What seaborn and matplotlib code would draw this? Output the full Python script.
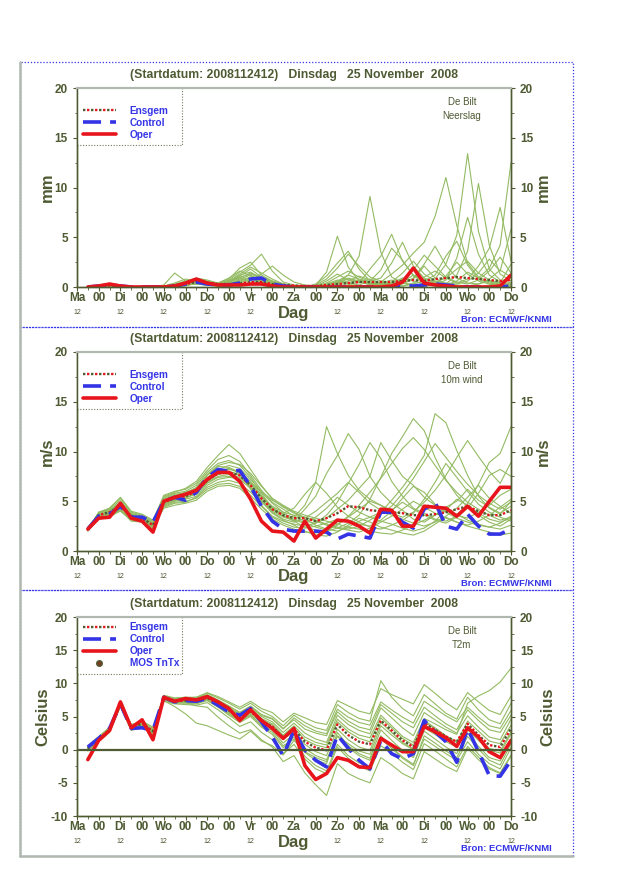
import matplotlib
matplotlib.use("Agg")
import matplotlib.pyplot as plt
import pandas as pd
import seaborn as sns
from matplotlib.lines import Line2D
from matplotlib.patches import Rectangle

sns.set_style("white")
plt.rcParams["font.family"] = ["Liberation Sans", "DejaVu Sans"]
plt.rcParams["axes.unicode_minus"] = False

# tijdstappen (uur na 2008112412), 6-uurlijks
uren = list(range(6, 241, 6))
dagen = ["Ma", "Di", "Wo", "Do", "Vr", "Za", "Zo", "Ma", "Di", "Wo", "Do"]
titel = "(Startdatum: 2008112412)   Dinsdag   25 November  2008"

# ---- neerslag (mm)
neerslag_oper = [0, 0.1, 0.3, 0.1, 0, 0, 0, 0, 0.1, 0.4, 0.8, 0.4, 0.2, 0.2, 0.2, 0.3,
                 0.3, 0.1, 0, 0, 0, 0, 0, 0, 0, 0, 0, 0, 0.1, 0.5, 1.9, 0.4,
                 0.2, 0.1, 0, 0, 0, 0, 0.1, 1.2]
neerslag_control = [0, 0.1, 0.2, 0.1, 0, 0, 0, 0, 0.1, 0.3, 0.5, 0.3, 0.2, 0.2, 0.4, 0.8,
                    0.9, 0.3, 0.1, 0, 0, 0, 0, 0, 0, 0, 0, 0, 0, 0.1, 0.1, 0.2,
                    0.3, 0.2, 0.1, 0, 0, 0, 0, 0.1]
neerslag_gem = [0, 0.1, 0.15, 0.1, 0, 0, 0, 0.05, 0.1, 0.3, 0.5, 0.4, 0.3, 0.3, 0.35, 0.5,
                0.5, 0.3, 0.2, 0.15, 0.1, 0.1, 0.2, 0.3, 0.4, 0.5, 0.5, 0.5, 0.5, 0.6, 0.7, 0.6,
                0.8, 0.9, 1.0, 0.9, 0.8, 0.7, 0.6, 0.7]
neerslag_leden = [
    [0, 0, 0.1, 0, 0, 0, 0, 0.2, 1.4, 0.6, 0.3, 0.2, 0.1, 0.3, 0.8, 1.2,
     0.6, 0.3, 0.1, 0, 0, 0.2, 1.5, 5.1, 2.0, 0.6, 0.2, 0.1, 0, 0.3, 0.8, 2.1,
     0.9, 0.3, 0.1, 0, 0, 0.2, 0.5, 0.3],
    [0, 0.1, 0.2, 0.1, 0, 0, 0, 0, 0.1, 0.3, 0.6, 0.4, 0.3, 0.7, 1.5, 2.2,
     3.3, 1.6, 0.5, 0.2, 0.1, 0, 0, 0.4, 1.2, 3.1, 9.1, 3.5, 1.0, 0.4, 0.2, 0.1,
     0.3, 1.1, 2.5, 1.3, 0.6, 0.3, 0.1, 0],
    [0, 0, 0.1, 0, 0, 0, 0, 0, 0, 0.2, 0.5, 0.3, 0.2, 0.4, 1.1, 1.8,
     1.0, 0.4, 0.2, 0.1, 0, 0.1, 0.6, 1.3, 0.7, 0.4, 1.8, 3.1, 5.3, 2.6, 1.2, 0.5,
     0.8, 2.3, 5.2, 13.4, 5.6, 1.8, 0.7, 0.4],
    [0, 0.1, 0.1, 0, 0, 0, 0, 0.1, 0.4, 0.8, 0.6, 0.3, 0.2, 0.5, 0.9, 0.6,
     0.4, 0.2, 0.1, 0, 0, 0.3, 1.1, 2.4, 3.6, 1.8, 0.6, 0.9, 2.4, 4.5, 2.1, 0.9,
     0.5, 0.3, 1.2, 3.6, 10.4, 4.2, 1.3, 0.6],
    [0, 0, 0.2, 0.1, 0, 0, 0, 0, 0.2, 0.4, 0.7, 0.5, 0.4, 0.9, 1.6, 1.1,
     0.7, 0.5, 0.3, 0.1, 0, 0, 0.2, 0.5, 0.9, 0.6, 0.3, 0.5, 1.3, 2.2, 3.4, 4.5,
     7.1, 11.0, 6.2, 2.4, 1.0, 0.5, 0.3, 0.2],
    [0, 0, 0.1, 0, 0, 0, 0, 0, 0.1, 0.2, 0.3, 0.2, 0.1, 0.2, 0.4, 0.7,
     1.3, 2.1, 1.2, 0.5, 0.2, 0.1, 0, 0, 0.2, 0.5, 0.8, 0.4, 0.2, 0.1, 0.4, 1.0,
     1.6, 0.9, 0.4, 0.8, 2.1, 3.9, 8.0, 2.6],
    [0, 0, 0.1, 0, 0, 0, 0, 0, 0.2, 0.5, 0.8, 0.6, 0.3, 0.6, 1.3, 2.0,
     1.4, 0.8, 0.3, 0.1, 0, 0.2, 0.8, 1.9, 3.3, 2.1, 1.0, 0.6, 0.3, 0.5, 1.2, 0.8,
     0.4, 0.2, 0.6, 1.5, 0.9, 1.9, 4.2, 12.5],
    [0, 0.1, 0.2, 0.1, 0, 0, 0, 0, 0, 0.1, 0.4, 0.3, 0.2, 0.3, 0.6, 0.9,
     0.5, 0.3, 0.2, 0, 0, 0, 0.3, 0.7, 0.4, 0.2, 0.6, 1.7, 3.9, 2.7, 1.1, 0.5,
     0.2, 0.7, 2.9, 7.0, 3.3, 1.2, 0.5, 0.9],
    [0, 0, 0, 0, 0, 0, 0, 0, 0.1, 0.3, 0.4, 0.3, 0.2, 0.5, 1.2, 1.5,
     0.8, 0.4, 0.2, 0.1, 0, 0, 0.1, 0.2, 0.4, 0.7, 0.4, 0.2, 0.5, 1.4, 2.6, 1.3,
     0.6, 0.4, 0.3, 0.6, 1.4, 2.8, 1.6, 5.8],
    [0, 0, 0.1, 0, 0, 0, 0, 0.1, 0.3, 0.6, 0.9, 0.7, 0.4, 0.8, 1.9, 2.5,
     1.2, 0.6, 0.3, 0.1, 0, 0.1, 0.4, 1.0, 1.6, 1.0, 0.5, 0.3, 0.2, 0.4, 0.9, 2.3,
     4.1, 2.2, 0.9, 0.4, 0.3, 0.8, 1.7, 1.0],
    [0, 0, 0.1, 0, 0, 0, 0, 0, 0.1, 0.2, 0.4, 0.3, 0.2, 0.3, 0.7, 1.0,
     0.6, 0.4, 0.2, 0.1, 0, 0, 0.1, 0.3, 0.6, 1.1, 0.7, 0.3, 0.1, 0.1, 0.3, 0.6,
     1.2, 3.1, 4.6, 2.2, 0.8, 0.4, 0.2, 0.1],
    [0, 0.1, 0.1, 0, 0, 0, 0, 0, 0.2, 0.4, 0.5, 0.4, 0.3, 0.6, 1.0, 1.3,
     0.9, 0.5, 0.2, 0.1, 0, 0, 0.2, 0.6, 1.2, 0.8, 0.4, 0.2, 0.3, 0.8, 1.7, 3.2,
     2.1, 1.0, 0.5, 0.3, 0.7, 1.6, 3.0, 1.4],
    [0, 0, 0.1, 0, 0, 0, 0, 0, 0.1, 0.2, 0.3, 0.2, 0.1, 0.3, 0.5, 0.8,
     0.5, 0.3, 0.2, 0, 0, 0, 0, 0.1, 0.2, 0.1, 0.2, 0.4, 0.7, 0.4, 0.2, 0.1,
     0.2, 0.3, 0.2, 0.1, 0.3, 0.6, 0.4, 0.2],
    [0, 0, 0.2, 0.1, 0, 0, 0, 0, 0.2, 0.3, 0.6, 0.5, 0.3, 0.5, 0.9, 1.4,
     1.0, 0.6, 0.3, 0.1, 0, 0, 0.1, 0.4, 0.8, 0.5, 0.3, 0.2, 0.4, 0.9, 0.6, 0.3,
     0.5, 0.9, 1.8, 2.6, 1.4, 0.7, 0.4, 2.3],
]

# ---- wind 10m (m/s)
wind_oper = [2.2, 3.3, 3.4, 4.8, 3.3, 3.0, 1.9, 5.0, 5.4, 5.7, 6.1, 7.2, 7.9, 7.9, 7.0, 5.2,
             3.0, 2.0, 1.9, 1.0, 3.0, 1.3, 2.2, 3.1, 3.0, 2.5, 1.8, 4.2, 4.1, 2.5, 2.5, 4.5,
             4.4, 4.3, 3.5, 4.5, 3.5, 5.0, 6.4, 6.4]
wind_control = [2.2, 3.5, 3.7, 4.5, 3.4, 3.4, 2.9, 5.0, 5.4, 5.1, 5.9, 7.4, 8.2, 8.0, 8.1, 6.5,
                4.5, 3.0, 2.2, 2.0, 2.0, 2.0, 1.9, 1.2, 1.7, 1.5, 1.3, 3.9, 3.9, 2.9, 2.3, 4.2,
                4.9, 2.5, 2.2, 3.7, 2.5, 1.7, 1.7, 2.2]
wind_gem = [2.2, 3.6, 3.9, 4.5, 3.5, 3.3, 2.6, 4.9, 5.3, 5.5, 6.0, 7.1, 7.8, 7.9, 7.6, 6.6,
            5.3, 4.2, 3.6, 3.3, 3.3, 3.0, 3.3, 3.8, 4.5, 4.4, 4.1, 4.0, 3.9, 3.8, 3.6, 3.6,
            3.7, 3.9, 4.2, 4.5, 4.0, 3.6, 3.6, 4.1]
wind_leden = [
    [2.1, 3.9, 4.2, 5.1, 3.8, 3.5, 2.9, 5.4, 5.8, 6.0, 6.6, 7.9, 8.8, 9.1, 8.6, 7.4,
     5.8, 4.3, 3.5, 3.0, 4.2, 5.5, 7.8, 9.6, 11.8, 10.2, 7.5, 5.9, 4.8, 4.1, 3.2, 2.9,
     3.6, 4.4, 5.0, 6.2, 5.1, 4.4, 3.8, 4.5],
    [2.3, 3.4, 3.6, 4.2, 3.2, 3.0, 2.4, 4.6, 5.0, 5.2, 5.5, 6.6, 7.2, 7.4, 7.3, 6.9,
     5.9, 4.8, 3.9, 3.0, 2.4, 2.1, 2.0, 2.3, 2.8, 3.6, 5.2, 7.4, 9.8, 11.5, 13.3, 12.1,
     9.4, 7.2, 5.6, 4.4, 3.6, 2.9, 2.5, 3.2],
    [2.4, 3.7, 4.1, 4.9, 3.7, 3.4, 2.8, 5.2, 5.6, 5.9, 6.3, 7.6, 8.5, 8.4, 7.9, 6.2,
     4.6, 3.5, 3.0, 2.7, 2.5, 2.8, 3.6, 4.9, 6.8, 8.7, 10.9, 9.3, 7.0, 5.5, 4.3, 3.8,
     3.2, 3.0, 3.5, 4.8, 6.7, 8.9, 9.8, 12.5],
    [2.0, 3.3, 3.5, 4.0, 3.1, 3.1, 2.3, 4.4, 4.8, 4.9, 5.4, 6.4, 6.9, 7.1, 6.8, 5.9,
     4.9, 4.1, 3.8, 4.3, 5.7, 6.9, 5.8, 4.4, 3.5, 2.9, 2.4, 2.2, 2.6, 3.1, 3.8, 5.2,
     6.9, 8.8, 7.4, 6.0, 4.7, 3.9, 3.4, 3.0],
    [2.2, 3.8, 4.0, 4.7, 3.6, 3.3, 2.7, 5.0, 5.4, 5.7, 6.2, 7.4, 8.2, 8.6, 8.3, 7.2,
     6.0, 5.1, 4.5, 3.9, 3.2, 2.6, 2.2, 2.0, 2.4, 3.0, 3.4, 3.9, 5.1, 6.4, 7.9, 9.6,
     13.8, 12.9, 10.1, 7.6, 5.5, 4.3, 3.7, 5.0],
    [2.1, 3.5, 3.8, 4.4, 3.4, 3.2, 2.5, 4.7, 5.1, 5.3, 5.8, 6.9, 7.5, 7.7, 7.4, 6.4,
     5.0, 3.8, 3.1, 2.6, 2.0, 1.6, 1.5, 1.9, 2.6, 3.3, 2.9, 2.4, 2.1, 1.8, 1.6, 2.0,
     2.7, 3.4, 2.9, 2.5, 2.2, 1.9, 1.6, 1.8],
    [2.3, 3.6, 4.0, 4.6, 3.5, 3.4, 2.7, 5.1, 5.5, 5.6, 6.1, 7.3, 8.0, 8.2, 8.0, 7.0,
     5.6, 4.4, 3.7, 3.4, 4.6, 6.9, 12.5, 9.8, 7.6, 6.1, 5.2, 4.6, 4.1, 4.9, 4.2, 3.6,
     3.1, 2.8, 3.4, 4.3, 5.8, 7.6, 8.2, 7.5],
    [2.2, 3.2, 3.4, 4.1, 3.0, 2.9, 2.2, 4.5, 4.9, 5.0, 5.3, 6.2, 6.7, 6.8, 6.5, 5.6,
     4.5, 3.4, 2.8, 2.4, 2.3, 2.5, 2.8, 3.2, 3.0, 2.7, 2.5, 3.1, 4.0, 5.3, 6.5, 5.9,
     4.7, 3.9, 3.3, 2.9, 2.6, 2.4, 2.8, 3.5],
    [2.0, 3.9, 4.3, 5.3, 3.9, 3.6, 3.0, 5.6, 6.0, 6.2, 6.8, 8.1, 9.2, 9.6, 9.0, 7.6,
     6.1, 4.9, 4.2, 3.5, 3.0, 2.8, 3.3, 4.2, 5.1, 6.3, 7.5, 10.9, 9.1, 7.5, 6.6, 5.4,
     4.6, 4.1, 3.6, 3.3, 3.9, 4.6, 5.6, 6.2],
    [2.4, 3.5, 3.7, 4.3, 3.3, 3.1, 2.5, 4.8, 5.2, 5.4, 5.7, 6.8, 7.4, 7.5, 7.2, 6.3,
     5.2, 4.0, 3.4, 3.1, 2.8, 2.4, 2.1, 2.6, 3.4, 4.2, 5.0, 4.6, 3.8, 3.4, 3.9, 4.9,
     6.1, 7.6, 9.4, 11.1, 9.5, 8.0, 6.8, 8.9],
    [2.1, 3.8, 4.1, 4.8, 3.7, 3.5, 2.8, 5.3, 5.7, 5.8, 6.4, 7.7, 8.6, 8.9, 8.7, 7.8,
     6.5, 5.3, 4.6, 4.0, 3.6, 3.3, 3.0, 2.7, 2.4, 2.2, 2.0, 1.8, 1.7, 2.1, 2.6, 3.1,
     3.6, 4.2, 3.7, 3.1, 2.7, 2.4, 2.2, 2.6],
    [2.3, 3.4, 3.7, 4.4, 3.4, 3.2, 2.6, 4.6, 5.1, 5.3, 5.9, 7.0, 7.7, 7.9, 7.6, 6.5,
     5.1, 3.9, 3.2, 2.9, 3.3, 4.0, 4.9, 5.8, 6.9, 5.9, 4.8, 4.1, 3.6, 3.2, 2.8, 2.5,
     2.9, 3.5, 4.3, 5.4, 6.6, 5.3, 4.5, 3.8],
    [2.2, 3.7, 3.9, 4.6, 3.6, 3.3, 2.7, 4.9, 5.3, 5.5, 6.0, 7.2, 7.9, 8.0, 7.7, 6.7,
     5.4, 4.2, 3.5, 3.2, 2.9, 3.4, 4.3, 5.4, 4.6, 3.9, 3.4, 3.0, 2.7, 2.3, 2.0, 2.3,
     3.0, 4.1, 5.2, 4.6, 3.8, 3.2, 2.9, 3.3],
    [2.1, 3.6, 4.0, 4.5, 3.5, 3.3, 2.6, 5.0, 5.4, 5.6, 6.1, 7.2, 8.1, 8.3, 7.8, 6.8,
     5.5, 4.5, 3.9, 3.6, 3.4, 3.1, 2.7, 2.4, 2.2, 2.5, 3.1, 3.8, 4.5, 5.8, 7.3, 9.0,
     10.8, 9.4, 8.0, 6.7, 5.6, 4.8, 4.2, 4.9],
    [2.3, 3.8, 4.3, 5.4, 4.0, 3.7, 3.1, 5.5, 5.9, 6.3, 7.0, 8.4, 9.6, 10.7, 9.8, 8.2,
     6.6, 5.2, 4.4, 3.8, 3.4, 3.0, 2.6, 2.3, 2.1, 1.9, 2.3, 2.9, 3.5, 4.2, 5.0, 4.4,
     3.8, 3.3, 2.9, 2.6, 3.0, 3.6, 4.4, 5.2],
    [2.2, 3.3, 3.6, 4.1, 3.2, 3.0, 2.4, 4.3, 4.6, 4.8, 5.1, 6.0, 6.5, 6.6, 6.3, 5.3,
     4.2, 3.2, 2.6, 2.2, 1.9, 1.8, 2.1, 2.7, 3.5, 4.6, 5.9, 7.3, 8.8, 10.3, 11.4, 10.2,
     8.6, 7.1, 5.9, 4.9, 4.2, 3.6, 3.1, 3.4],
]

# ---- temperatuur 2m (Celsius)
temp_oper = [-1.5, 1.4, 2.9, 7.2, 3.3, 4.5, 1.5, 7.9, 7.3, 7.7, 7.5, 8.0, 7.2, 6.2, 4.4, 6.0,
             4.4, 3.2, 1.7, 3.2, -2.4, -4.5, -3.6, -1.2, -1.6, -2.6, -2.7, 1.7, 0.7, -0.3, -0.3, 3.5,
             2.7, 1.8, 0.5, 3.3, 1.9, -0.3, -1.2, 1.4]
temp_control = [0.4, 1.7, 3.2, 6.9, 3.2, 3.3, 2.9, 7.9, 7.2, 7.4, 7.3, 7.7, 6.7, 5.7, 5.2, 6.2,
                4.2, 1.9, -0.9, 2.9, -0.1, -1.6, -2.6, 2.2, 0.2, -1.6, -2.9, 1.4, -0.6, -1.4, -0.6, 4.4,
                2.7, 1.2, -1.9, 3.2, -0.3, -3.9, -4.0, -1.6]
temp_gem = [0.2, 1.6, 3.0, 6.8, 3.4, 3.9, 2.8, 7.7, 7.3, 7.4, 7.3, 7.8, 6.9, 5.9, 4.9, 5.8,
            4.3, 3.5, 1.8, 3.1, 1.2, 0.3, -0.1, 3.8, 2.2, 1.2, 0.8, 4.4, 2.9, 1.4, 0.4, 4.0,
            3.0, 2.0, 1.2, 3.9, 2.2, 0.7, 0.4, 3.2]
temp_mos = []
temp_leden = [
    [0.5, 1.9, 3.4, 7.1, 3.8, 4.2, 3.2, 8.2, 7.8, 7.9, 7.8, 8.3, 7.5, 6.6, 5.6, 6.5,
     5.0, 4.2, 2.6, 4.0, 2.5, 1.6, 1.1, 5.2, 3.8, 2.9, 2.4, 6.3, 4.8, 3.3, 2.1, 5.6,
     4.5, 3.4, 2.5, 5.1, 3.4, 1.9, 1.5, 4.6],
    [-0.2, 1.2, 2.6, 6.5, 2.9, 3.4, 2.3, 7.3, 6.9, 6.8, 6.7, 7.1, 6.0, 4.8, 3.5, 4.2,
     2.6, 1.5, -0.6, 0.8, -1.4, -2.9, -3.6, 0.4, -1.3, -2.5, -3.2, 0.6, -0.5, -1.9, -3.0, 0.9,
     -0.2, -1.4, -2.6, 0.5, -1.1, -2.7, -3.5, -0.8],
    [0.3, 1.7, 3.1, 6.9, 3.6, 4.0, 3.0, 7.9, 7.5, 7.6, 7.6, 8.1, 7.3, 6.3, 5.4, 6.4,
     5.2, 4.6, 3.1, 4.8, 3.6, 2.8, 2.4, 6.1, 4.9, 4.1, 3.7, 7.2, 6.0, 4.9, 4.0, 7.3,
     6.2, 5.1, 4.2, 6.4, 4.9, 3.6, 3.2, 5.9],
    [0.0, 1.4, 2.8, 6.6, 3.1, 3.6, 2.5, 7.5, 7.0, 7.0, 6.9, 7.4, 6.4, 5.2, 4.1, 5.0,
     3.4, 2.3, 0.3, 1.9, -0.4, -1.6, -2.1, 2.6, 0.6, -0.6, -1.3, 3.0, 1.4, -0.1, -1.2, 2.8,
     1.6, 0.4, -0.6, 2.5, 0.5, -1.2, -1.7, 1.3],
    [0.6, 2.0, 3.3, 7.0, 3.7, 4.3, 3.4, 8.0, 7.7, 7.9, 7.9, 8.5, 7.8, 7.0, 6.1, 7.0,
     5.8, 5.0, 3.6, 5.2, 4.1, 3.3, 2.9, 6.8, 5.6, 4.7, 4.3, 10.4, 7.9, 6.2, 5.1, 8.3,
     6.9, 5.5, 4.6, 7.9, 6.0, 4.5, 3.9, 7.0],
    [0.1, 1.5, 2.9, 6.8, 3.3, 3.8, 2.7, 7.6, 7.2, 7.1, 6.6, 6.4, 4.9, 3.6, 2.5, 3.0,
     1.5, 0.4, -1.8, -0.9, -3.5, -5.3, -6.9, -2.1, -3.6, -4.4, -5.0, -1.2, -2.3, -3.6, -4.4, -0.3,
     -1.4, -2.5, -3.3, 0.2, -1.5, -2.9, -3.6, -1.0],
    [0.4, 1.8, 3.2, 6.9, 3.5, 4.0, 2.9, 7.8, 7.4, 7.5, 7.5, 8.0, 7.1, 6.2, 5.2, 6.1,
     4.7, 3.9, 2.2, 3.6, 1.9, 1.1, 0.7, 4.6, 3.1, 2.2, 1.8, 5.2, 3.6, 2.0, 1.1, 4.7,
     3.9, 3.0, 2.3, 7.0, 8.1, 8.9, 10.2, 12.3],
    [-0.1, 1.3, 2.7, 6.7, 3.0, 3.5, 2.4, 7.4, 6.5, 5.4, 4.0, 3.6, 2.9, 2.2, 1.6, 2.8,
     1.3, 0.6, -0.8, 1.4, -0.3, -1.2, -1.8, 2.1, 0.9, -0.2, -0.7, 3.6, 2.2, 0.9, 0.0, 3.3,
     2.3, 1.2, 0.4, 3.0, 1.4, -0.1, -0.5, 2.4],
    [0.2, 1.6, 3.0, 6.7, 3.4, 3.9, 2.8, 7.7, 7.3, 7.3, 7.2, 7.7, 6.8, 5.7, 4.6, 5.5,
     4.0, 3.2, 1.5, 2.8, 0.8, -0.3, -0.9, 3.1, 1.5, 0.4, -0.1, 4.1, 2.6, 1.1, 0.1, 4.4,
     3.3, 2.1, 1.2, 3.5, 1.7, 0.2, -0.2, 2.7],
    [0.3, 1.7, 3.1, 6.8, 3.5, 3.9, 2.9, 7.8, 7.5, 7.8, 7.9, 8.6, 8.0, 7.2, 6.4, 7.3,
     6.2, 5.6, 4.2, 5.5, 4.8, 4.1, 3.8, 7.4, 6.6, 5.8, 5.4, 9.2, 8.3, 7.6, 6.9, 9.8,
     8.5, 7.1, 6.0, 8.6, 7.2, 5.9, 5.3, 8.1],
    [0.0, 1.5, 2.9, 6.6, 3.2, 3.7, 2.6, 7.5, 7.1, 7.2, 7.0, 7.5, 6.5, 5.4, 4.3, 5.2,
     3.7, 2.9, 1.0, 2.3, 0.2, -0.9, -1.5, 2.0, 0.3, -0.9, -1.6, 2.1, 0.4, -1.1, -2.2, 1.6,
     0.5, -0.6, -1.6, 1.2, -0.7, -2.1, -2.9, 0.3],
    [0.4, 1.8, 3.1, 6.9, 3.5, 4.1, 3.0, 7.9, 7.6, 7.7, 7.6, 8.2, 7.4, 6.5, 5.6, 6.6,
     5.3, 4.7, 3.2, 4.5, 3.1, 2.5, 2.1, 5.7, 4.3, 3.4, 3.0, 6.8, 5.5, 4.2, 3.3, 6.4,
     5.1, 3.9, 3.0, 6.0, 4.4, 3.0, 2.6, 5.2],
    [0.1, 1.5, 2.9, 6.8, 3.3, 3.8, 2.7, 7.6, 7.2, 7.2, 7.1, 7.5, 6.6, 5.5, 4.4, 5.3,
     3.6, 2.6, 0.6, 1.6, -1.0, -2.4, -3.2, 0.8, -0.9, -2.0, -2.6, 1.6, 0.2, -1.3, -2.4, 2.1,
     1.0, -0.2, -1.2, 2.0, 0.1, -1.6, -2.3, 0.9],
    [0.2, 1.6, 3.0, 6.9, 3.4, 3.9, 2.8, 7.7, 7.3, 7.5, 7.4, 7.9, 7.0, 6.1, 5.1, 6.0,
     4.5, 3.7, 2.0, 3.3, 1.5, 0.7, 0.3, 4.2, 2.7, 1.7, 1.2, 4.8, 3.3, 1.7, 0.7, 4.2,
     3.1, 2.0, 1.1, 4.3, 2.8, 1.3, 0.9, 3.7],
]

for reeks in [neerslag_oper, neerslag_control, neerslag_gem, wind_oper, wind_control,
              wind_gem, temp_oper, temp_control, temp_gem] + neerslag_leden + wind_leden + temp_leden:
    assert len(reeks) == len(uren), len(reeks)

OLIJF = "#4e5a32"
GROEN = "#93bb62"
ROOD = "#e8141c"
BLAUW = "#3434e6"
GRIJS = "#b0b8b0"

panelen = [
    dict(onder=1 - 287 / 880, ylim=(0, 20), eenheid="mm", plaats="De Bilt\nNeerslag",
         leden=neerslag_leden, gem=neerslag_gem, control=neerslag_control, oper=neerslag_oper,
         mos=None),
    dict(onder=1 - 551 / 880, ylim=(0, 20), eenheid="m/s", plaats="De Bilt\n10m wind",
         leden=wind_leden, gem=wind_gem, control=wind_control, oper=wind_oper, mos=None),
    dict(onder=1 - 816 / 880, ylim=(-10, 20), eenheid="Celsius", plaats="De Bilt\nT2m",
         leden=temp_leden, gem=temp_gem, control=temp_control, oper=temp_oper, mos=temp_mos),
]
randen = [(62, 327), (327, 590), (590, 856)]

fig = plt.figure(figsize=(6.4, 8.8), dpi=100)

for (boven, onder), p in zip(randen, panelen):
    fig.add_artist(Rectangle((20 / 640, 1 - onder / 880), 553 / 640, (onder - boven) / 880,
                             transform=fig.transFigure, fill=False, edgecolor=BLAUW,
                             lw=0.9, ls=(0, (1, 1.5))))
fig.add_artist(Line2D([20 / 640, 20 / 640], [1 - 856 / 880, 1 - 62 / 880],
                      transform=fig.transFigure, color=GRIJS, lw=1.8))
fig.add_artist(Line2D([20 / 640, 573 / 640], [1 - 856 / 880, 1 - 856 / 880],
                      transform=fig.transFigure, color=GRIJS, lw=1.8))

for p in panelen:
    ax = fig.add_axes([77 / 640, p["onder"], 434 / 640, 199 / 880])
    lo, hi = p["ylim"]

    lang = pd.DataFrame(
        [(n, u, v) for n, rij in enumerate(p["leden"]) for u, v in zip(uren, rij)],
        columns=["lid", "uur", "waarde"],
    )
    sns.lineplot(data=lang, x="uur", y="waarde", units="lid", estimator=None,
                 color=GROEN, lw=0.8, ax=ax, legend=False)
    if lo < 0:
        ax.axhline(0, color=OLIJF, lw=1.6, zorder=2.5)
    sns.lineplot(x=uren, y=p["gem"], color=OLIJF, lw=1.7, ls=(0, (1, 2.4)), ax=ax)
    sns.lineplot(x=uren, y=p["gem"], color=ROOD, lw=1.7, ls=(1.7, (1, 2.4)), ax=ax)
    sns.lineplot(x=uren, y=p["control"], color=BLAUW, lw=2.6, ls=(0, (5, 2.5)), ax=ax)
    sns.lineplot(x=uren, y=p["oper"], color=ROOD, lw=2.6, ax=ax)

    h_gem = (Line2D([], [], color=OLIJF, lw=1.7, ls=(0, (1, 2.4))),
             Line2D([], [], color=ROOD, lw=1.7, ls=(1.7, (1, 2.4))))
    h_con = Line2D([], [], color=BLAUW, lw=2.6, ls=(0, (5, 2.5)))
    h_op = Line2D([], [], color=ROOD, lw=2.6)
    handles, labels = [h_gem, h_con, h_op], ["Ensgem", "Control", "Oper"]
    if p["mos"] is not None:
        sns.scatterplot(x=uren[:len(p["mos"])], y=p["mos"], color=OLIJF, s=14, ax=ax)
        handles.append(Line2D([], [], ls="none", marker="o", ms=4, color=OLIJF,
                              markerfacecolor="#7a3c20"))
        labels.append("MOS TnTx")
    else:
        # lege regel bovenaan, zoals in het origineel
        handles.insert(0, Line2D([], [], color="none"))
        labels.insert(0, " ")
    leg = ax.legend(handles, labels, loc="upper left", bbox_to_anchor=(0, 0, 105 / 434, 1),
                    mode="expand", borderaxespad=0, fancybox=False, frameon=True,
                    edgecolor=OLIJF, handlelength=3.3, handletextpad=1.4, labelspacing=0.2,
                    borderpad=0.55, labelcolor=BLAUW, prop=dict(weight="bold", size=7.2))
    leg.get_frame().set_linestyle((0, (1, 1.5)))
    leg.get_frame().set_linewidth(0.8)

    ax.set_xlim(0, 240)
    ax.set_ylim(lo, hi)
    ax.set_xticks(range(0, 241, 12))
    ax.set_xticks(range(0, 241, 6), minor=True)
    ax.set_xticklabels([dagen[i // 2] if i % 2 == 0 else "00" for i in range(21)])
    for i, lab in enumerate(ax.get_xticklabels()):
        lab.set_va("center")
        if i % 2:
            lab.set_fontsize(5.5)
    # "12" onder de dagnamen; onder het midden staat "Dag"
    for d in range(0, 241, 24):
        if d != 120:
            ax.text(d, -0.13, "12", transform=ax.get_xaxis_transform(), ha="center",
                    va="center", fontsize=5, color=OLIJF)
    ax.set_yticks(range(lo, hi + 1, 5))
    ax.set_yticks([v / 2 for v in range(2 * lo, 2 * hi + 1, 5)], minor=True)
    ax.tick_params(axis="both", which="major", direction="out", length=3, width=0.8,
                   color=OLIJF, labelcolor=OLIJF, labelsize=8.5)
    ax.tick_params(axis="x", which="major", pad=5)
    ax.tick_params(axis="both", which="minor", direction="out", length=1.8, width=0.6,
                   color=OLIJF)
    ax.tick_params(bottom=True, left=True, which="both")
    for lab in ax.get_xticklabels() + ax.get_yticklabels():
        lab.set_fontweight("bold")
    ax.set_xlabel("Dag", fontsize=12, fontweight="bold", color=OLIJF, labelpad=1)
    ax.set_ylabel(p["eenheid"], fontsize=12, fontweight="bold", color=OLIJF, labelpad=0)

    ax2 = ax.twinx()
    ax2.set_ylim(lo, hi)
    ax2.set_yticks(range(lo, hi + 1, 5))
    ax2.set_yticks([v / 2 for v in range(2 * lo, 2 * hi + 1, 5)], minor=True)
    ax2.tick_params(axis="y", which="major", direction="out", length=3, width=0.8,
                    color=OLIJF, labelcolor=OLIJF, labelsize=8.5, right=True)
    ax2.tick_params(axis="y", which="minor", direction="out", length=1.8, width=0.6,
                    color=OLIJF, right=True)
    for lab in ax2.get_yticklabels():
        lab.set_fontweight("bold")
    ax2.set_ylabel(p["eenheid"], fontsize=12, fontweight="bold", color=OLIJF, labelpad=2)

    for a in (ax, ax2):
        for kant in ("left", "bottom", "right"):
            a.spines[kant].set_color(OLIJF)
            a.spines[kant].set_linewidth(1.0)
        a.spines["top"].set_color(GRIJS)
        a.spines["top"].set_linewidth(1.5)
        a.spines["top"].set_linestyle((0, (3, 1)))

    ax.set_title(titel, fontsize=8.8, fontweight="bold", color=OLIJF, pad=7)
    ax.text(0.887, 0.955, p["plaats"], transform=ax.transAxes, ha="center", va="top",
            fontsize=7, color=OLIJF, linespacing=1.5)
    ax.text(0.99, -0.165, "Bron: ECMWF/KNMI", transform=ax.transAxes, ha="center",
            va="center", fontsize=6.8, fontweight="bold", color=BLAUW)

fig.savefig("out.png", dpi=100, facecolor="white")
